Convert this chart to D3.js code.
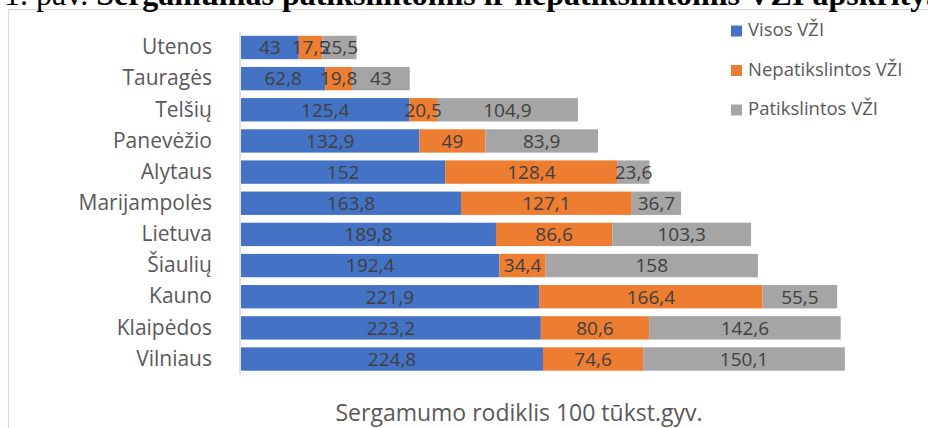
<!DOCTYPE html>
<html>
<head>
<meta charset="utf-8">
<script src="https://cdn.jsdelivr.net/npm/d3@7"></script>
<style>
  html, body { margin: 0; padding: 0; background: #fff; }
  svg { display: block; }
</style>
</head>
<body>
<svg id="chart" width="928" height="428"></svg>
<script>
const categories = ["Utenos", "Tauragės", "Telšių", "Panevėžio", "Alytaus", "Marijampolės", "Lietuva", "Šiaulių", "Kauno", "Klaipėdos", "Vilniaus"];
const seriesNames = ["Visos VŽI", "Nepatikslintos VŽI", "Patikslintos VŽI"];
const visos = [43, 62.8, 125.4, 132.9, 152, 163.8, 189.8, 192.4, 221.9, 223.2, 224.8];
const nepatikslintos = [17.5, 19.8, 20.5, 49, 128.4, 127.1, 86.6, 34.4, 166.4, 80.6, 74.6];
const patikslintos = [25.5, 43, 104.9, 83.9, 23.6, 36.7, 103.3, 158, 55.5, 142.6, 150.1];
const colors = ["#4472C4", "#ED7D31", "#A5A5A5"];
const titleRegular = "1. pav. ";
const titleBold = "Sergamumas patikslintomis ir nepatikslintomis VŽI apskrityse";
const axisTitle = "Sergamumo rodiklis 100 tūkst.gyv.";

const svg = d3.select("#chart");
const font = "'Open Sans', sans-serif";

// Chart border
svg.append("rect").attr("x", 8.5).attr("y", 9.5).attr("width", 940).attr("height", 440)
  .attr("fill", "none").attr("stroke", "#d9d9d9").attr("stroke-width", 1.2);

// Cut-off caption at the top
const t = svg.append("text").attr("x", 4).attr("y", 4.5)
  .attr("font-family", "'Liberation Serif', 'Times New Roman', serif")
  .attr("font-size", 32).attr("fill", "#000");
t.append("tspan").text(titleRegular);
t.append("tspan").attr("font-weight", "bold").text(titleBold);

const rows = categories.map((c, i) => ({ cat: c, v: [visos[i], nepatikslintos[i], patikslintos[i]] }));
const stack = d3.stack().keys([0, 1, 2]).value((d, k) => d.v[k]);
const stacked = stack(rows);

const x = d3.scaleLinear().domain([0, 450]).range([241, 845.5]);
const y = d3.scaleBand().domain(categories).range([31.9, 374.6]).paddingInner(0.25).paddingOuter(0.125);

// Bars
stacked.forEach((layer, k) => {
  const g = svg.append("g");
  g.selectAll("rect").data(layer).join("rect")
    .attr("x", d => x(d[0]))
    .attr("y", d => y(d.data.cat))
    .attr("width", d => x(d[1]) - x(d[0]))
    .attr("height", y.bandwidth())
    .attr("fill", colors[k]);
});

// Value labels
stacked.forEach((layer, k) => {
  svg.append("g").selectAll("text").data(layer).join("text")
    .attr("x", d => (x(d[0]) + x(d[1])) / 2)
    .attr("y", d => y(d.data.cat) + y.bandwidth() / 2)
    .attr("dy", "0.36em")
    .attr("text-anchor", "middle")
    .attr("font-family", font).attr("font-size", 19)
    .attr("fill", "#404040")
    .text(d => String(d.data.v[k]).replace(".", ","));
});

// Vertical axis
const yAxis = d3.axisLeft(y).tickSize(0).tickPadding(28);
const ga = svg.append("g").attr("transform", `translate(240,0)`).call(yAxis);
ga.select(".domain").attr("stroke", "#d9d9d9").attr("stroke-width", 1.5)
  .attr("d", `M0,31.9V374.6`);
ga.selectAll("text").attr("font-family", font).attr("font-size", 21).attr("fill", "#595959");

// Legend
const legend = svg.append("g");
seriesNames.forEach((name, k) => {
  const ly = 36 + k * 39.5;
  legend.append("rect").attr("x", 731).attr("y", ly - 10.5).attr("width", 11).attr("height", 11).attr("fill", colors[k]);
  legend.append("text").attr("x", 748).attr("y", ly)
    .attr("font-family", font).attr("font-size", 18.5).attr("fill", "#595959").text(name);
});

// Axis title
svg.append("text").attr("x", 519).attr("y", 421).attr("text-anchor", "middle")
  .attr("font-family", font).attr("font-size", 23).attr("fill", "#595959").text(axisTitle);
</script>
</body>
</html>
